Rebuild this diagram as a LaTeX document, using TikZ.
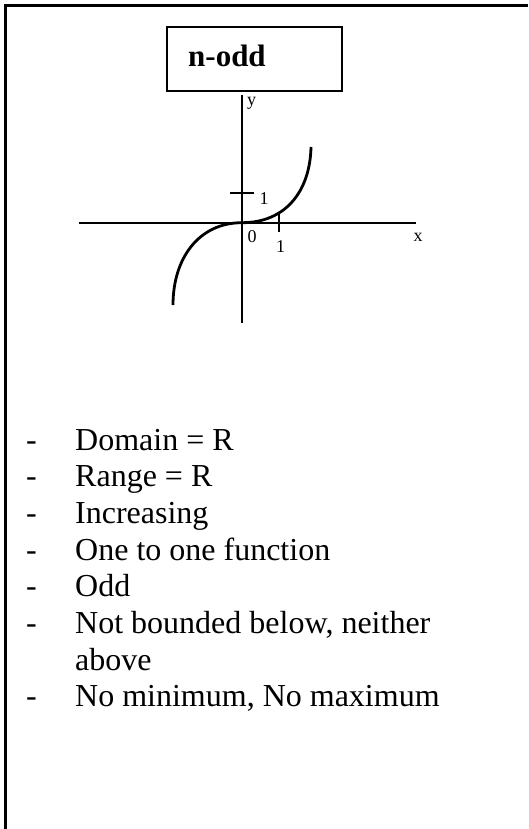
\documentclass[tikz,border=0pt]{standalone}
\usepackage{fontspec}
\setmainfont{Liberation Serif}
\begin{document}
\begin{tikzpicture}[x=1pt,y=-1pt,
  axisline/.style={line width=1.8pt},
  curveline/.style={line width=2.8pt},
  framebox/.style={draw,line width=2pt,inner sep=0pt},
  listtext/.style={anchor=base west,inner sep=0pt,font=\fontsize{32}{36}\selectfont},
  smalllabel/.style={inner sep=0pt,font=\fontsize{18}{20}\selectfont}]
\useasboundingbox (0,0) rectangle (528,829);
% outer frame (top and left sides)
\coordinate (fbl) at (5.5,829);
\coordinate (ftl) at (5.5,5.5);
\coordinate (ftr) at (528,5.5);
\draw[line width=2.6pt] (fbl) -- (ftl) -- (ftr);
% title box
\node[framebox,minimum width=175pt,minimum height=64pt] (box) at (254.7,59.2) {};
\node[anchor=base west,inner sep=0pt,font=\fontsize{31}{34}\selectfont\bfseries] (title) at (188,66.7) {n-odd};
% axes
\coordinate (o) at (242,222.7);
\coordinate (ytop) at (242,95);
\coordinate (ybot) at (242,323);
\coordinate (xl) at (79,222.7);
\coordinate (xr) at (416,222.7);
\draw[axisline] (ytop) -- (ybot);
\draw[axisline] (xl) -- (xr);
% ticks
\coordinate (yt1) at (230,193.3);
\coordinate (yt2) at (254,193.3);
\coordinate (xt1) at (279,213);
\coordinate (xt2) at (279,232);
\draw[axisline] (yt1) -- (yt2);
\draw[axisline] (xt1) -- (xt2);
% curve
\coordinate (cup) at (311,147);
\coordinate (clo) at (173,305);
\draw[curveline] (clo) .. controls (173,258) and (199,222.7) .. (o)
  .. controls (285,222.7) and (310,192) .. (cup);
% labels
\node[smalllabel,anchor=north west] (ylab) at (247,97) {y};
\node[smalllabel,anchor=west] (ylab1) at (259.5,199) {1};
\node[smalllabel] (olab) at (252,236.5) {0};
\node[smalllabel] (xlab1) at (280.5,246.5) {1};
\node[smalllabel] (xlab) at (418,237) {x};
% list
\foreach \i/\t in {0/{Domain = R},1/{Range = R},2/{Increasing},3/{One to one function},4/{Odd},5/{Not bounded below, neither},7/{No minimum, No maximum}}{
  \node[listtext] (dash\i) at (26,450+36.7*\i) {-};
  \node[listtext] (item\i) at (75,450+36.7*\i) {\t};
}
\node[listtext] (item6) at (75,450+36.7*6) {above};
\end{tikzpicture}
\end{document}
